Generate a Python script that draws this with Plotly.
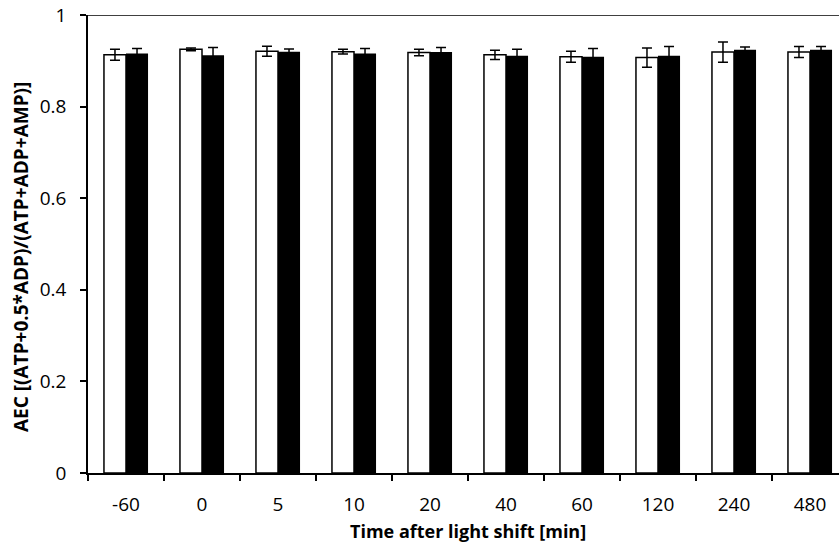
import plotly.graph_objects as go

categories = ["-60", "0", "5", "10", "20", "40", "60", "120", "240", "480"]
white_vals = [0.913, 0.925, 0.921, 0.920, 0.918, 0.913, 0.909, 0.907, 0.919, 0.919]
white_err = [0.012, 0.003, 0.011, 0.005, 0.007, 0.010, 0.012, 0.021, 0.022, 0.012]
black_vals = [0.916, 0.912, 0.920, 0.916, 0.919, 0.911, 0.909, 0.911, 0.924, 0.924]
black_err = [0.011, 0.017, 0.006, 0.011, 0.010, 0.014, 0.018, 0.020, 0.006, 0.007]
y_ticks = [0, 0.2, 0.4, 0.6, 0.8, 1]
y_ticktext = ["0", "0.2", "0.4", "0.6", "0.8", "1"]

FONT = "Open Sans"
TICK_SIZE = 19

fig = go.Figure()
fig.add_trace(go.Bar(
    x=categories, y=white_vals,
    marker=dict(color="white", line=dict(color="black", width=1.5)),
    error_y=dict(type="data", array=white_err, color="black", thickness=1.5, width=5),
    showlegend=False,
))
fig.add_trace(go.Bar(
    x=categories, y=black_vals,
    marker=dict(color="black", line=dict(color="black", width=0)),
    error_y=dict(type="data", array=black_err, color="black", thickness=1.5, width=5),
    showlegend=False,
))

fig.update_layout(
    width=839, height=550,
    margin=dict(l=88, r=0, t=15, b=77),
    paper_bgcolor="white", plot_bgcolor="white",
    barmode="group", bargap=0.42, bargroupgap=0,
    font=dict(family=FONT, color="black", size=TICK_SIZE),
)
fig.update_xaxes(
    type="category", range=[-0.5, -0.5 + 751 / 76],
    showline=True, linecolor="black", linewidth=1.5,
    ticks="outside", ticklen=6, tickwidth=1.5, tickcolor="black",
    tickson="boundaries", showgrid=False, zeroline=False,
    ticklabelstandoff=13,
    tickfont=dict(family=FONT, size=TICK_SIZE, color="black"),
)
fig.update_yaxes(
    range=[0, 1], tickvals=y_ticks, ticktext=y_ticktext,
    showline=True, linecolor="black", linewidth=1.5,
    ticks="outside", ticklen=6, tickwidth=1.5, tickcolor="black",
    showgrid=False, zeroline=False,
    ticklabelstandoff=10,
    tickfont=dict(family=FONT, size=TICK_SIZE, color="black"),
)
fig.add_shape(type="line", xref="paper", yref="y", x0=0, x1=1, y0=1, y1=1,
              line=dict(color="black", width=1.5))
fig.add_annotation(text="<b>Time after light shift [min]</b>", xref="paper", yref="paper",
                   x=(468 - 88) / 751, y=-58 / 458, xanchor="center", yanchor="middle",
                   showarrow=False, font=dict(family=FONT, size=18, color="black"))
fig.add_annotation(text="<b>AEC [(ATP+0.5*ADP)/(ATP+ADP+AMP)]</b>", xref="paper", yref="paper",
                   x=(21 - 88) / 751, y=(473 - 257) / 458, xanchor="center", yanchor="middle",
                   textangle=-90, showarrow=False, font=dict(family=FONT, size=19, color="black"))

fig.write_html("out.html")
